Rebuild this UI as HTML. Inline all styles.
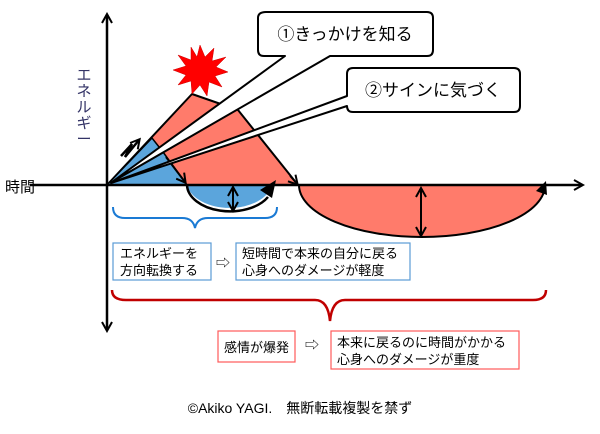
<!DOCTYPE html>
<html><head><meta charset="utf-8"><style>
body{margin:0;background:#fff;}
svg text{font-family:"Liberation Sans","Noto Sans CJK JP",sans-serif;}
</style></head><body>
<svg width="600" height="429" viewBox="0 0 600 429" xmlns="http://www.w3.org/2000/svg">
<defs>
<marker id="ah" markerWidth="12" markerHeight="12" refX="9" refY="6" orient="auto-start-reverse" markerUnits="userSpaceOnUse"><path d="M1,1 L10,6 L1,11" fill="none" stroke="#000" stroke-width="2"/></marker>
</defs>
<!-- red shape -->
<polygon points="107,185 192,94 238,110 298,185" fill="#ff7b6b" stroke="#000" stroke-width="2" stroke-linejoin="round"/>
<!-- blue triangle -->
<polygon points="107,185 152,138 163,152 187,185" fill="#5ba5dc" stroke="#000" stroke-width="1.5"/>
<!-- blue semicircle -->
<path d="M187,185 A43,27 0 0 0 272,185 Z" fill="#5ba5dc"/>
<path d="M187,185 A43,27 0 0 0 268,197" fill="none" stroke="#000" stroke-width="2.5"/>
<polygon points="260,190 276,180 272,198" fill="#000"/>
<line x1="233" y1="188" x2="233" y2="210" stroke="#000" stroke-width="2" marker-start="url(#ah)" marker-end="url(#ah)"/>
<!-- red semicircle -->
<path d="M299,185 A123,52 0 0 0 545,185 Z" fill="#ff7b6b" stroke="#000" stroke-width="2"/>
<polygon points="536,191 546,181 547,195" fill="#000"/>
<line x1="421" y1="189" x2="421" y2="235" stroke="#000" stroke-width="2" marker-start="url(#ah)" marker-end="url(#ah)"/>
<!-- small arrows -->
<line x1="166" y1="157" x2="185" y2="182" stroke="#000" stroke-width="2" marker-end="url(#ah)"/>
<line x1="290" y1="176" x2="297" y2="184" stroke="#000" stroke-width="1.5" marker-end="url(#ah)"/>
<path d="M121,156 L132,144 L125,157 L139,140" fill="none" stroke="#000" stroke-width="2.5" marker-end="url(#ah)"/>
<!-- axes -->
<line x1="30" y1="185" x2="582" y2="185" stroke="#000" stroke-width="2.5" marker-end="url(#ah)"/>
<line x1="107" y1="330" x2="107" y2="15" stroke="#000" stroke-width="2.5" marker-end="url(#ah)" marker-start="url(#ah)"/>
<!-- star -->
<polygon fill="#f00" stroke="#c00" stroke-width="0.5" points="200,45 205,57 214,48 212,61 226,57 216,67 228,72 215,76 222,87 209,82 207,96 200,85 192,94 191,81 178,85 186,75 173,70 186,66 178,55 191,60 191,47 197,57" />
<!-- bubble 1 -->
<path d="M266,12 H427 Q433,12 433,18 V50 Q433,56 427,56 H330 L112,182 L285,56 H264 Q258,56 258,50 V18 Q258,12 266,12 Z" fill="#fff" stroke="#000" stroke-width="2" stroke-linejoin="round"/>
<text x="345" y="40" font-size="17" text-anchor="middle">①きっかけを知る</text>
<!-- bubble 2 -->
<path d="M353,68 H514 Q520,68 520,74 V106 Q520,112 514,112 H353 Q347,112 347,106 L111,183 L347,96 V74 Q347,68 353,68 Z" fill="#fff" stroke="#000" stroke-width="2" stroke-linejoin="round"/>
<text x="433" y="96" font-size="17" text-anchor="middle">②サインに気づく</text>
<!-- labels -->
<text x="5" y="192" font-size="15">時間</text>
<g font-size="15" fill="#333366">
<text x="84" y="80" text-anchor="middle">エ</text>
<text x="84" y="96" text-anchor="middle">ネ</text>
<text x="84" y="112" text-anchor="middle">ル</text>
<text x="84" y="128" text-anchor="middle">ギ</text>
<text x="84" y="144" text-anchor="middle">ー</text>
</g>
<!-- blue brace -->
<path d="M113,207 Q113,218 125,218 H182 Q193,218 195,228 Q197,218 208,218 H265 Q277,218 277,207" fill="none" stroke="#1a7ad4" stroke-width="2"/>
<!-- red brace -->
<path d="M112,290 Q112,300 126,300 H315 Q328,300 330,321 Q332,300 345,300 H533 Q546,300 546,290" fill="none" stroke="#c00000" stroke-width="2.5"/>
<!-- boxes -->
<rect x="113" y="243" width="98" height="37" fill="#fff" stroke="#5b9bd5" stroke-width="1.2"/>
<text x="120" y="258" font-size="13">エネルギーを</text>
<text x="120" y="275" font-size="13">方向転換する</text>
<text x="216" y="268" font-size="14">⇨</text>
<rect x="236" y="243" width="174" height="37" fill="#fff" stroke="#5b9bd5" stroke-width="1.2"/>
<text x="242" y="258" font-size="13">短時間で本来の自分に戻る</text>
<text x="242" y="275" font-size="13">心身へのダメージが軽度</text>
<rect x="218" y="331" width="77" height="31" fill="#fff" stroke="#ff5a5a" stroke-width="1.2"/>
<text x="224" y="352" font-size="13">感情が爆発</text>
<text x="305" y="350" font-size="14">⇨</text>
<rect x="331" y="331" width="188" height="38" fill="#fff" stroke="#ff5a5a" stroke-width="1.2"/>
<text x="337" y="347" font-size="13">本来に戻るのに時間がかかる</text>
<text x="337" y="364" font-size="13">心身へのダメージが重度</text>
<text x="300" y="413" font-size="14" text-anchor="middle">©Akiko YAGI.　無断転載複製を禁ず</text>
</svg>
</body></html>
